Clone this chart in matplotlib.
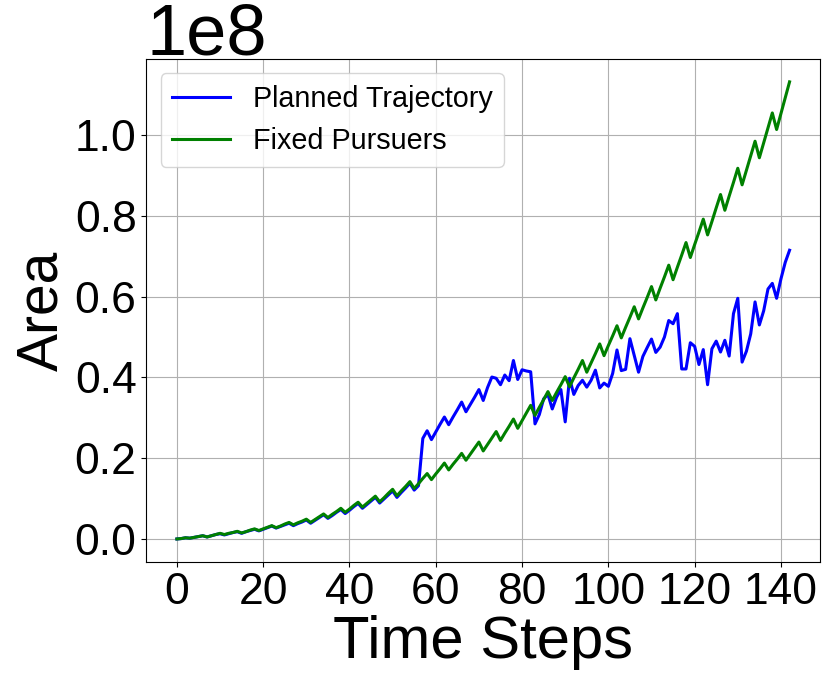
import matplotlib
matplotlib.use("Agg")
import matplotlib.pyplot as plt
import numpy as np

plt.rcParams['font.family'] = ['Liberation Sans', 'DejaVu Sans']

time_steps = list(range(143))

planned_trajectory = [
    0.000, 0.001, 0.003, 0.002, 0.004, 0.006, 0.008, 0.005, 0.008, 0.011,
    0.013, 0.010, 0.013, 0.016, 0.018, 0.014, 0.018, 0.021, 0.024, 0.020,
    0.024, 0.028, 0.032, 0.027, 0.031, 0.035, 0.039, 0.033, 0.038, 0.042,
    0.047, 0.039, 0.046, 0.053, 0.060, 0.051, 0.058, 0.066, 0.073, 0.063,
    0.071, 0.080, 0.088, 0.076, 0.085, 0.094, 0.103, 0.089, 0.099, 0.109,
    0.119, 0.103, 0.115, 0.126, 0.138, 0.121, 0.132, 0.249, 0.268, 0.246,
    0.265, 0.284, 0.302, 0.283, 0.302, 0.320, 0.339, 0.315, 0.333, 0.351,
    0.370, 0.343, 0.375, 0.401, 0.398, 0.382, 0.406, 0.392, 0.442, 0.395,
    0.419, 0.416, 0.414, 0.285, 0.308, 0.347, 0.358, 0.322, 0.351, 0.370,
    0.290, 0.398, 0.358, 0.380, 0.393, 0.376, 0.393, 0.418, 0.374, 0.386,
    0.378, 0.410, 0.468, 0.417, 0.420, 0.496, 0.454, 0.413, 0.452, 0.474,
    0.495, 0.462, 0.475, 0.500, 0.541, 0.533, 0.558, 0.421, 0.421, 0.486,
    0.477, 0.432, 0.469, 0.382, 0.471, 0.490, 0.463, 0.492, 0.453, 0.558,
    0.596, 0.438, 0.465, 0.508, 0.587, 0.530, 0.565, 0.619, 0.633, 0.596,
    0.644, 0.685, 0.715,
]

fixed_pursuers = [
    0.000, 0.001, 0.003, 0.002, 0.004, 0.006, 0.008, 0.005, 0.008, 0.011,
    0.014, 0.011, 0.014, 0.016, 0.019, 0.015, 0.018, 0.022, 0.025, 0.021,
    0.025, 0.029, 0.033, 0.028, 0.032, 0.037, 0.041, 0.035, 0.040, 0.044,
    0.049, 0.041, 0.048, 0.055, 0.062, 0.053, 0.061, 0.068, 0.076, 0.066,
    0.074, 0.083, 0.091, 0.079, 0.088, 0.097, 0.106, 0.092, 0.102, 0.113,
    0.123, 0.107, 0.119, 0.130, 0.142, 0.125, 0.137, 0.150, 0.162, 0.147,
    0.161, 0.174, 0.188, 0.171, 0.185, 0.198, 0.212, 0.195, 0.210, 0.225,
    0.240, 0.218, 0.234, 0.250, 0.266, 0.244, 0.262, 0.279, 0.297, 0.274,
    0.293, 0.312, 0.331, 0.306, 0.326, 0.345, 0.365, 0.343, 0.363, 0.382,
    0.402, 0.377, 0.399, 0.420, 0.442, 0.413, 0.436, 0.459, 0.483, 0.454,
    0.479, 0.503, 0.528, 0.498, 0.524, 0.549, 0.575, 0.545, 0.572, 0.598,
    0.625, 0.592, 0.621, 0.649, 0.678, 0.642, 0.673, 0.703, 0.734, 0.697,
    0.729, 0.760, 0.792, 0.753, 0.786, 0.820, 0.853, 0.814, 0.849, 0.883,
    0.918, 0.877, 0.913, 0.949, 0.985, 0.944, 0.981, 1.018, 1.055, 1.014,
    1.053, 1.093, 1.132,
]

x_ticks = [0, 20, 40, 60, 80, 100, 120, 140]
y_ticks = [0.0, 0.2, 0.4, 0.6, 0.8, 1.0]

scale = 1e8
planned = np.array(planned_trajectory) * scale
fixed = np.array(fixed_pursuers) * scale

fig = plt.figure(figsize=(8.31, 6.86), dpi=100)
ax = fig.add_axes([0.176, 0.181, 0.811, 0.733])

ax.plot(time_steps, planned, color='blue', linewidth=2.2, label='Planned Trajectory')
ax.plot(time_steps, fixed, color='green', linewidth=2.2, label='Fixed Pursuers')

ax.set_xticks(x_ticks)
ax.set_yticks(np.array(y_ticks) * scale)
ax.set_xlabel('Time Steps', fontsize=43, labelpad=2)
ax.set_ylabel('Area', fontsize=41)
ax.tick_params(axis='both', labelsize=32)
ax.yaxis.get_offset_text().set_fontsize(52)
ax.grid(True)
ax.legend(loc='upper left', fontsize=20.7)

fig.savefig('out.png', dpi=100)
